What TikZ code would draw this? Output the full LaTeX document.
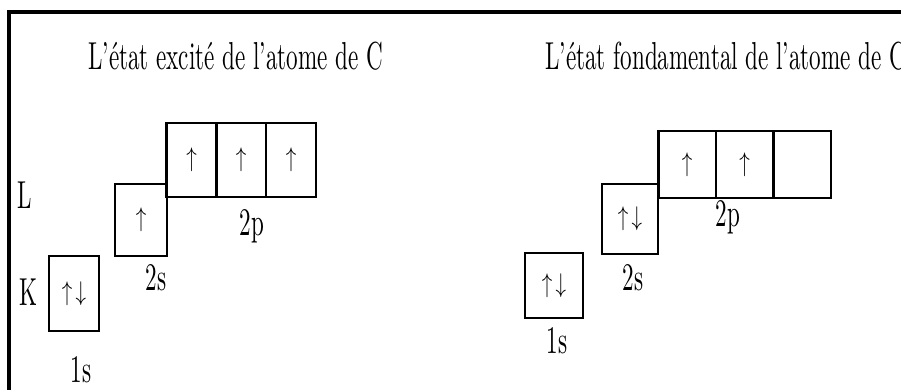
\documentclass[tikz,border=0pt]{standalone}
\usepackage{graphicx}
% text is set at 10pt and stretched, which keeps the strokes heavy
\newcommand{\tallt}[1]{\scalebox{2.31}[3.9]{#1}}
\newcommand{\spinup}{\scalebox{2.1}[2.7]{$\uparrow$}}
\newcommand{\spinpair}{\scalebox{2.1}[2.7]{$\uparrow\,\downarrow$}}
\begin{document}
\begin{tikzpicture}[x=1pt,y=-1pt,
  orb/.style={draw,line width=2.5pt,inner sep=0pt,
    font=\fontsize{10}{10}\selectfont},
  lbl/.style={inner sep=0pt,anchor=base,font=\fontsize{10}{10}\selectfont},
  ttl/.style={inner sep=0pt,anchor=base west,font=\fontsize{10}{10}\selectfont}]
\clip (0,0) rectangle (901,389);
\fill[white] (0,0) rectangle (901,389);
% frame
\draw[line width=4pt] (9,400) -- (9,12) -- (910,12);

% excited state
\node[ttl] (t1) at (88,69) {\tallt{L'état excité de l'atome de C}};
\node[lbl] (shL) at (25,208) {\tallt{L}};
\node[lbl] (shK) at (28,305) {\tallt{K}};
\node[orb,minimum width=50pt,minimum height=75pt] (a1s) at (74,293.5) {\spinpair};
\node[orb,minimum width=52pt,minimum height=72pt] (a2s) at (141,220) {\spinup};
\node[orb,minimum width=50pt,minimum height=74pt] (a2px) at (191.5,160) {\spinup};
\node[orb,minimum width=50pt,minimum height=74pt] (a2py) at (241,160) {\spinup};
\node[orb,minimum width=50pt,minimum height=74pt] (a2pz) at (291,160) {\spinup};
\node[lbl] (a1sl) at (81,382) {\tallt{1s}};
\node[lbl] (a2sl) at (156,290) {\tallt{2s}};
\node[lbl] (a2pl) at (252,235) {\tallt{2p}};

% ground state
\node[ttl] (t2) at (545,69) {\tallt{L'état fondamental de l'atome de C}};
\node[orb,minimum width=58pt,minimum height=65pt] (b1s) at (554,285.5) {\spinpair};
\node[orb,minimum width=56pt,minimum height=70pt] (b2s) at (630,219) {\spinpair};
\node[orb,minimum width=57.5pt,minimum height=67pt] (b2px) at (687,164.5) {\spinup};
\node[orb,minimum width=57.5pt,minimum height=67pt] (b2py) at (744.5,164.5) {\spinup};
\node[orb,minimum width=57.5pt,minimum height=67pt] (b2pz) at (802,164.5) {};
\node[lbl] (b1sl) at (557,353) {\tallt{1s}};
\node[lbl] (b2sl) at (633,290) {\tallt{2s}};
\node[lbl] (b2pl) at (728,226) {\tallt{2p}};
\end{tikzpicture}
\end{document}
